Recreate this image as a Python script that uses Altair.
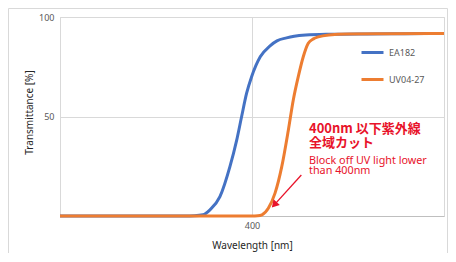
import altair as alt
import pandas as pd

series_names = ["EA182", "UV04-27"]
series_colors = ["#4472C4", "#ED7D31"]

blue_wl = [300, 350, 365, 370, 374.5, 378, 383.3, 388.5, 392, 394.6, 397.2, 399.8, 404.3, 409.4, 413, 418, 422, 428, 440, 460, 480, 500]
blue_t = [0, 0, 0, 0.1, 0.6, 3, 9.7, 24.8, 38, 50, 61.7, 70, 80, 85.5, 88, 89.5, 90.3, 90.9, 91.3, 91.5, 91.6, 91.7]

orange_wl = [300, 380, 400, 403, 405.2, 408.5, 412, 415.5, 418.9, 421.5, 424.1, 426.7, 429.3, 432, 434.5, 440, 450, 470, 500]
orange_t = [0, 0, 0, 0.1, 0.6, 3.9, 11.5, 24.8, 43, 58.3, 70, 80, 86.8, 89, 90, 91, 91.5, 91.6, 91.7]

x_ticks = [400]
y_ticks = [50, 100]

note_bold_lines = ["400nm 以下紫外線", "全域カット"]
note_bold_t = [43.7, 36.5]
note_regular_lines = ["Block off UV light lower", "than 400nm"]
note_regular_t = [27.8, 22.8]
note_wl = 429.7
arrow_wl = [425.7, 411.6]
arrow_t = [20.6, 5.6]
arrow_head_wl = [411.6]
arrow_head_t = [5.6]

red = "#e8132a"

df = pd.DataFrame({
    "wl": blue_wl + orange_wl,
    "t": blue_t + orange_t,
    "series": [series_names[0]] * len(blue_wl) + [series_names[1]] * len(orange_wl),
})

xscale = alt.Scale(domain=[300, 500], nice=False, zero=False)
yscale = alt.Scale(domain=[0, 100], nice=False)

border = alt.Chart(pd.DataFrame({"a": [0]})).mark_rect(
    fillOpacity=0, stroke="#d9d9d9", strokeWidth=1
).encode(
    x=alt.value(-51.5), x2=alt.value(387.5), y=alt.value(-8.5), y2=alt.value(236.5)
)

lines = alt.Chart(df).mark_line(strokeWidth=3, interpolate="monotone").encode(
    x=alt.X("wl:Q", scale=xscale, axis=alt.Axis(
        values=x_ticks, title="Wavelength [nm]", grid=True, gridColor="#d9d9d9",
        domainColor="#bfbfbf", ticks=False, labelFontSize=9, labelColor="#595959",
        labelPadding=5, titleFontSize=10, titleColor="#262626", titleFontWeight="normal",
        titleY=29, titleBaseline="middle")),
    y=alt.Y("t:Q", scale=yscale, axis=alt.Axis(
        values=y_ticks, title="Transmittance [%]", grid=True, gridColor="#d9d9d9",
        domainColor="#d9d9d9", ticks=False, labelFontSize=9, labelColor="#595959",
        labelPadding=6, titleFontSize=10, titleColor="#262626", titleFontWeight="normal",
        titleX=-31, titleY=95, titleBaseline="middle")),
    color=alt.Color("series:N", scale=alt.Scale(domain=series_names, range=series_colors),
                    legend=alt.Legend(title=None, orient="none", legendX=300, legendY=23,
                                      symbolType="stroke", symbolSize=484, symbolStrokeWidth=3,
                                      labelFontSize=9, labelColor="#595959", labelOffset=4,
                                      rowPadding=8)),
)

bold_df = pd.DataFrame({"wl": [note_wl] * 2, "t": note_bold_t, "txt": note_bold_lines})
reg_df = pd.DataFrame({"wl": [note_wl] * 2, "t": note_regular_t, "txt": note_regular_lines})

bold_text = alt.Chart(bold_df).mark_text(
    align="left", baseline="middle",
    font="Noto Sans CJK JP", fontSize=13, fontWeight="bold", color=red
).encode(x=alt.X("wl:Q", scale=xscale), y=alt.Y("t:Q", scale=yscale), text="txt:N")

reg_text = alt.Chart(reg_df).mark_text(
    align="left", baseline="middle",
    font="Noto Sans", fontSize=10.8, color=red
).encode(x=alt.X("wl:Q", scale=xscale), y=alt.Y("t:Q", scale=yscale), text="txt:N")

arrow_line = alt.Chart(pd.DataFrame({"wl": arrow_wl, "t": arrow_t})).mark_line(
    color=red, strokeWidth=1.3
).encode(x=alt.X("wl:Q", scale=xscale), y=alt.Y("t:Q", scale=yscale))

arrow_head = alt.Chart(pd.DataFrame({"wl": arrow_head_wl, "t": arrow_head_t})).mark_point(
    shape="triangle-up", angle=222, size=70, filled=True, color=red, opacity=1
).encode(x=alt.X("wl:Q", scale=xscale), y=alt.Y("t:Q", scale=yscale))

chart = alt.layer(border, lines, arrow_line, arrow_head, bold_text, reg_text).properties(
    width=384, height=199,
    autosize=alt.AutoSizeParams(type="none"),
    padding={"left": 52, "top": 9, "right": 4, "bottom": 37},
).configure(font="Noto Sans").configure_view(stroke="#d9d9d9")

chart.save("out.html", embed_options={"renderer": "svg", "actions": False})
